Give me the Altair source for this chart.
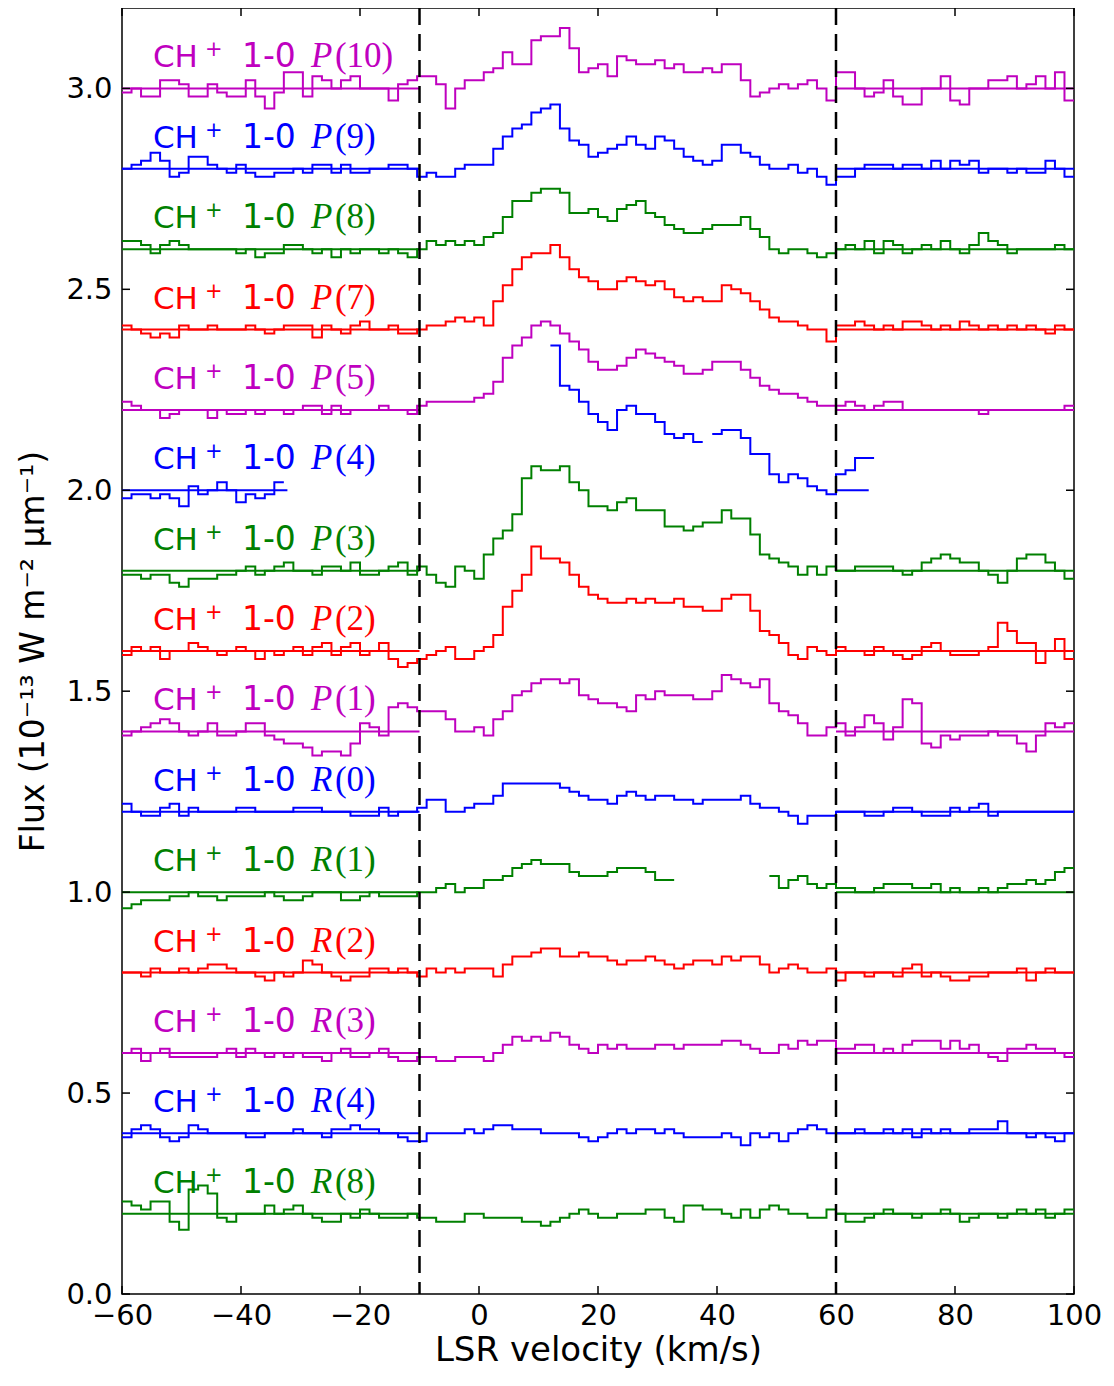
import altair as alt
import pandas as pd

# ---------------- data ----------------
V_START = -60.0      # km/s, left edge of first channel
CHAN_W = 1.6         # km/s channel width
N = None             # missing channel

line_names = ["P(10)", "P(9)", "P(8)", "P(7)", "P(5)", "P(4)", "P(3)", "P(2)",
              "P(1)", "R(0)", "R(1)", "R(2)", "R(3)", "R(4)", "R(8)"]
baselines = [3.0, 2.8, 2.6, 2.4, 2.2, 2.0, 1.8, 1.6, 1.4, 1.2, 1.0, 0.8, 0.6, 0.4, 0.2]
line_colors = ["#bf00bf", "#0000ff", "#008000", "#ff0000", "#bf00bf", "#0000ff",
               "#008000", "#ff0000", "#bf00bf", "#0000ff", "#008000", "#ff0000",
               "#bf00bf", "#0000ff", "#008000"]

# continuum-fit ranges (km/s)
cont_left_end = [-10, -10, -10, -10, -10, -32.2, -10, -10, -10, -10, -10, -10, -10, -10, -10]
cont_right_end = [100, 100, 100, 100, 100, 65.5, 100, 100, 100, 100, 100, 100, 100, 100, 100]
CONT_LEFT_START = -60
CONT_RIGHT_START = 60

# flux offsets from each baseline, in units of 0.01 (1e-13 W m^-2 um^-1), per channel
p10 = [-1, 0, -2, -2, 2, 2, 1, -2, -2, 1,
       -1, -2, -2, 2, -2, -5, -1, 4, 4, -2,
       3, 2, 0, 2, 3, 0, 0, 0, -3, 1,
       2, 3, 3, 1, -5, 0, 2, 2, 4, 5,
       9, 6, 6, 12, 13, 13, 15, 10, 4, 5,
       6, 3, 8, 7, 6, 6, 7, 5, 6, 4,
       4, 5, 4, 6, 6, 2, -2, -1, 0, 1,
       0, 1, 2, 0, -3, 4, 4, 0, -2, -1,
       2, -2, -4, -4, 0, 0, 3, -3, -4, 0,
       0, 2, 2, 3, 0, 1, 3, 0, 4, -3]
p9 = [0, 1, 2, 4, 2, -2, -1, 3, 3, 1,
      0, -1, 1, -1, -2, -2, -1, -1, 0, -1,
      1, 1, -1, 1, -1, -1, 0, 0, 1, 1,
      0, -2, -1, -2, -2, 0, 1, 1, 1, 5,
      8, 10, 11, 14, 15, 16, 10, 7, 6, 3,
      4, 5, 6, 8, 6, 5, 8, 7, 5, 3,
      2, 1, 2, 6, 6, 4, 3, 1, 0, 0,
      1, -1, 0, -2, -4, -2, -2, 0, 1, 1,
      1, 0, 1, 1, 0, 2, 0, 2, 1, 2,
      -1, 0, 0, -1, 0, -1, -1, 2, 0, -2]
p8 = [2, 2, 1, -1, 1, 2, 1, 0, 0, 0,
      0, 0, -1, 0, -2, -1, -1, 1, 1, 0,
      -1, 0, -2, 0, -1, 0, 0, -1, 0, -1,
      -2, 0, 2, 1, 2, 1, 2, 1, 3, 4,
      8, 12, 12, 14, 15, 15, 14, 9, 9, 10,
      8, 7, 10, 11, 12, 9, 8, 6, 5, 4,
      4, 5, 6, 6, 6, 8, 5, 3, 0, -1,
      0, 0, -1, -2, -1, 0, 1, 0, 2, -1,
      2, 1, -1, 0, 1, 0, 2, 0, -1, 1,
      4, 2, 1, -1, 0, 0, 0, 0, 1, 0]
p7 = [1, 0, -1, -2, -1, -2, 1, 0, 0, 1,
      0, 0, 0, 1, 0, -1, 0, 1, 1, 1,
      -2, 1, 0, -1, 1, 2, 0, 0, 1, -1,
      -1, 0, 1, 1, 2, 3, 2, 3, 1, 7,
      11, 15, 18, 19, 19, 21, 18, 15, 13, 12,
      10, 10, 12, 13, 12, 11, 12, 10, 8, 7,
      8, 7, 7, 11, 10, 9, 7, 5, 3, 2,
      2, 1, 0, 0, -3, 1, 1, 2, 1, 0,
      1, 0, 2, 2, 1, 0, 1, 0, 2, 1,
      0, 1, 0, 1, 0, 1, 0, -1, 1, 0]
p5 = [2, 1, 0, 0, -2, -1, 0, 0, 0, -2,
      0, -1, -1, 0, -1, 0, 0, -1, 0, 1,
      1, -1, 1, -1, 0, 0, 0, 1, 0, 0,
      -1, 1, 2, 2, 2, 2, 2, 3, 4, 7,
      13, 16, 18, 21, 22, 21, 19, 17, 15, 12,
      10, 10, 11, 13, 15, 14, 13, 12, 11, 9,
      9, 10, 12, 12, 12, 10, 8, 6, 5, 4,
      4, 3, 2, 1, 1, 1, 2, 1, 0, 1,
      2, 2, 0, 0, 0, 0, 0, 0, 0, 0,
      -1, 0, 0, 0, 0, 0, 0, 0, 0, 1]
p4 = [-2, -1, -1, -2, -1, -2, -4, 1, -1, 0,
      2, 0, -3, -1, -2, -1, 2, N, N, N,
      N, N, N, N, N, N, N, N, N, N,
      N, N, N, N, N, N, N, N, N, N,
      N, N, N, N, N, 36, 26, 25, 22, 19,
      17, 15, 20, 21, 19, 19, 17, 14, 13, 14,
      12, N, 14, 15, 15, 13, 9, 9, 4, 2,
      4, 3, 1, 0, -1, 4, 5, 8, 8, N,
      N, N, N, N, N, N, N, N, N, N,
      N, N, N, N, N, N, N, N, N, N]
p3 = [-1, -1, -2, -1, -1, -3, -4, -2, -2, -2,
      -1, -1, 0, 1, -1, 0, 1, 2, 0, 0,
      -1, 1, 1, 0, 2, -1, -1, 0, 1, 2,
      -1, 1, -1, -3, -4, 1, 0, -2, 4, 8,
      10, 14, 23, 26, 25, 25, 26, 22, 20, 16,
      16, 15, 17, 18, 15, 15, 15, 11, 11, 10,
      11, 12, 12, 15, 13, 13, 9, 4, 3, 2,
      1, -1, 1, -1, 1, 0, 0, 1, 1, 1,
      1, 0, -1, 0, 2, 3, 4, 3, 2, 2,
      0, -1, -3, 0, 3, 4, 4, 2, 0, -2]
p2 = [-1, 1, 0, 1, -2, 0, 0, 2, 1, 0,
      -1, 0, 1, 0, -2, 0, -1, 0, 1, -1,
      1, 2, -1, 1, 2, -1, 0, 2, -2, -4,
      -3, -2, -1, 0, 1, -2, -2, 0, 1, 4,
      11, 15, 19, 26, 23, 23, 22, 19, 16, 14,
      13, 12, 12, 13, 12, 13, 12, 12, 13, 11,
      11, 10, 10, 13, 14, 14, 10, 5, 4, 2,
      -1, -2, 1, 0, -1, 1, 0, 0, -1, 1,
      0, -1, -2, -1, 1, 2, 0, -1, -1, -1,
      0, 1, 7, 5, 2, 2, -3, 0, 3, -2]
p1 = [-1, 0, 1, 2, 3, 2, 0, -1, 0, 2,
      -1, -1, 0, 2, 2, -1, -2, -3, -3, -4,
      -6, -5, -5, -6, -3, 2, 1, -1, 6, 7,
      6, 5, 5, 5, 3, 0, 0, 1, -1, 3,
      5, 9, 10, 12, 13, 13, 12, 13, 9, 8,
      7, 7, 6, 5, 9, 8, 10, 9, 9, 9,
      8, 8, 10, 14, 13, 12, 11, 13, 7, 5,
      4, 2, -1, -1, 1, 2, -1, 1, 4, 2,
      -2, 1, 8, 7, -3, -4, -1, -2, -1, -1,
      -1, 0, -1, -1, -3, -5, -1, 2, 1, 2]
r0 = [2, 0, -1, -1, 1, 2, -1, 1, 0, 0,
      0, 0, 1, 1, 0, 0, 0, 0, 1, 1,
      1, 0, 0, 0, -1, -1, -1, 1, -1, 0,
      0, 1, 3, 3, 0, 0, 1, 2, 2, 4,
      7, 7, 7, 7, 7, 7, 6, 5, 4, 3,
      3, 2, 4, 5, 4, 3, 4, 4, 3, 3,
      2, 3, 3, 3, 3, 4, 2, 1, 1, 0,
      -1, -3, -1, -1, -1, 0, 0, 0, -1, -1,
      0, 1, 1, 0, -1, -1, -1, 1, 0, 1,
      2, -1, 0, 0, 0, 0, 0, 0, 0, 0]
r1 = [-4, -3, -2, -2, -2, -1, -1, 0, -1, -1,
      -2, -1, -1, -1, -1, 0, -1, -2, -2, -1,
      0, 0, 0, -2, -2, -1, 0, -1, -1, -1,
      -1, 0, 0, 1, 2, 0, 1, 1, 3, 3,
      4, 6, 7, 8, 7, 7, 7, 5, 4, 4,
      4, 5, 6, 6, 6, 5, 3, 3, N, N,
      N, N, N, N, N, N, N, N, 4, 1,
      3, 4, 2, 1, 2, 1, 1, 0, 0, 1,
      2, 2, 2, 1, 1, 2, 0, 1, 0, 0,
      1, 0, 1, 2, 2, 3, 2, 3, 5, 6]
r2 = [0, 0, -1, 1, 0, 0, 1, 0, 1, 2,
      2, 1, 0, 0, -1, -2, 0, -1, 0, 3,
      2, 0, -1, -2, -1, -1, 1, 1, 0, 1,
      0, -1, 1, 0, 1, 0, 1, 1, 1, -1,
      2, 4, 4, 5, 6, 6, 4, 4, 5, 4,
      4, 3, 2, 3, 3, 4, 3, 2, 1, 2,
      3, 3, 2, 4, 3, 4, 4, 2, 0, 1,
      2, 1, 0, 0, 1, -2, 0, 0, -1, 0,
      0, -1, 1, 2, -1, 0, -1, -2, -2, -1,
      -1, 0, 0, 0, 1, -2, 0, 1, 0, 0]
r3 = [0, 1, -2, 0, 1, -1, -1, -1, -1, -1,
      0, 1, -1, 1, 0, -1, 0, -1, 0, -1,
      -1, -2, 0, 1, -1, -1, 0, 1, -1, -2,
      -2, -1, -1, -2, -2, -1, -1, -1, -2, 0,
      2, 4, 3, 4, 3, 5, 4, 2, 1, 0,
      2, 1, 2, 1, 1, 1, 2, 2, 1, 2,
      2, 2, 2, 3, 3, 2, 1, 0, 0, 2,
      1, 3, 2, 3, 3, 1, 1, 2, 2, 0,
      1, 0, 2, 3, 3, 3, 1, 3, 1, 2,
      0, -1, -2, 1, 1, 2, 1, 1, 0, -1]
r4 = [-1, 1, 2, 1, -1, -2, -1, 2, 1, 0,
      0, 0, 0, -1, -1, 0, 0, 0, 1, 0,
      0, -1, 1, 1, 2, 1, 1, 0, 0, -1,
      -2, -2, 0, 0, 0, 0, 1, 0, 1, 2,
      2, 1, 1, 1, 0, 0, 0, 0, -1, -2,
      -1, 0, 1, 0, 1, 1, 0, 1, 0, -1,
      -1, -1, -1, 0, -1, -3, 0, -1, 0, -2,
      0, 1, 2, 1, 0, 0, 0, 1, 0, 0,
      1, 0, 1, -1, 1, 0, 1, 0, 0, 1,
      1, 1, 3, 0, 0, -1, 0, -1, -2, 0]
r8 = [3, 2, 1, 3, 3, -2, -4, 6, 7, 5,
      -1, -2, 0, 0, 0, 2, 0, 1, 2, 0,
      -1, -2, -2, 0, -1, 1, 0, -1, -1, -1,
      0, -1, -1, -2, -2, -2, 0, 0, -1, -1,
      -1, -1, -2, -2, -3, -2, -1, 0, 1, 0,
      -1, -1, 0, 0, 0, 1, 1, -1, -2, 2,
      2, 1, 1, 0, -1, 1, -1, 1, 2, 1,
      0, 0, -1, -1, 1, 0, -2, -2, -1, 0,
      1, 0, 0, -1, 0, 0, 1, 0, -2, -1,
      0, 0, -1, 0, 1, 0, 1, -1, 0, 1]

spectra = [p10, p9, p8, p7, p5, p4, p3, p2, p1, r0, r1, r2, r3, r4, r8]

x_tick_values = [-60, -40, -20, 0, 20, 40, 60, 80, 100]
y_tick_values = [0.0, 0.5, 1.0, 1.5, 2.0, 2.5, 3.0]
window_edges = [-10, 60]

x_title = "LSR velocity (km/s)"
y_title = "Flux (10\u207b\u00b9\u00b3 W m\u207b\u00b2 \u03bcm\u207b\u00b9)"

# ---------------- tables ----------------
rows = []
for name, base, offs in zip(line_names, baselines, spectra):
    seg = 0
    prev_missing = True
    for i, o in enumerate(offs):
        if o is None:
            if not prev_missing:
                seg += 1
            prev_missing = True
            continue
        prev_missing = False
        f = base + o / 100.0
        x0 = V_START + CHAN_W * i
        key = f"{name}-{seg}"
        rows.append({"name": name, "key": key, "v": x0, "flux": f, "o": 2 * i})
        rows.append({"name": name, "key": key, "v": x0 + CHAN_W, "flux": f, "o": 2 * i + 1})
spec_df = pd.DataFrame(rows)

cont_rows = []
for name, base, le, re in zip(line_names, baselines, cont_left_end, cont_right_end):
    cont_rows.append({"name": name, "v": CONT_LEFT_START, "v2": le, "flux": base})
    cont_rows.append({"name": name, "v": CONT_RIGHT_START, "v2": re, "flux": base})
cont_df = pd.DataFrame(cont_rows)

LABEL_X = -54.8
LABEL_DY = 0.052
lab_df = pd.DataFrame({
    "name": line_names,
    "v": [LABEL_X] * len(line_names),
    "flux": [b + LABEL_DY for b in baselines],
    "ch": ["CH"] * len(line_names),
    "sup": ["+"] * len(line_names),
    "band": ["1-0"] * len(line_names),
    "branch": [n[0] for n in line_names],
    "j": [n[1:] for n in line_names],
})

W, H = 952, 1286

xs = alt.Scale(domain=[-60, 100], nice=False, zero=False)
ys = alt.Scale(domain=[0, 3.2], nice=False, zero=False)
x_axis = alt.Axis(values=x_tick_values, ticks=False, domain=False, grid=False,
                  title=x_title, labelFontSize=29, titleFontSize=34,
                  labelPadding=7, titlePadding=3, titleFontWeight="normal",
                  labelFlush=False)
y_axis = alt.Axis(values=y_tick_values, ticks=False, domain=False, grid=False,
                  title=y_title, format=".1f", labelFontSize=29, titleFontSize=33,
                  labelPadding=10, titlePadding=15, titleFontWeight="normal")
cscale = alt.Scale(domain=line_names, range=line_colors)


def X(field):
    return alt.X(field, type="quantitative", scale=xs, axis=x_axis)


def Y(field):
    return alt.Y(field, type="quantitative", scale=ys, axis=y_axis)


def C():
    return alt.Color("name:N", scale=cscale, legend=None)


cont = alt.Chart(cont_df).mark_rule(strokeWidth=2).encode(
    x=X("v"), x2="v2", y=Y("flux"), color=C())

spec = alt.Chart(spec_df).mark_line(strokeWidth=2, interpolate="linear").encode(
    x=X("v"), y=Y("flux"), color=C(), detail="key:N", order=alt.Order("o:Q"))

dash = alt.Chart(pd.DataFrame({"v": window_edges})).mark_rule(
    color="black", strokeWidth=2.5, strokeDash=[17, 9]).encode(
    x=X("v"), y=alt.value(0), y2=alt.value(H))

xt = pd.DataFrame({"v": x_tick_values})
yt = pd.DataFrame({"flux": y_tick_values})
tick_bottom = alt.Chart(xt).mark_rule(color="black", strokeWidth=1.5).encode(
    x=X("v"), y=alt.value(H), y2=alt.value(H - 8))
tick_top = alt.Chart(xt).mark_rule(color="black", strokeWidth=1.5).encode(
    x=X("v"), y=alt.value(0), y2=alt.value(8))
tick_left = alt.Chart(yt).mark_rule(color="black", strokeWidth=1.5).encode(
    y=Y("flux"), x=alt.value(0), x2=alt.value(8))
tick_right = alt.Chart(yt).mark_rule(color="black", strokeWidth=1.5).encode(
    y=Y("flux"), x=alt.value(W), x2=alt.value(W - 8))


def label_part(field, font, size, dx, dy=0, style="normal"):
    return alt.Chart(lab_df).mark_text(
        align="left", baseline="alphabetic", font=font, fontSize=size,
        dx=dx, dy=dy, fontStyle=style).encode(
        x=X("v"), y=Y("flux"), text=f"{field}:N", color=C())


labels = [
    label_part("ch", "DejaVu Sans", 31, 0),
    label_part("sup", "DejaVu Sans", 21, 52, -11),
    label_part("band", "DejaVu Sans", 33, 89),
    label_part("branch", "Liberation Serif", 35, 158, 0, "italic"),
    label_part("j", "Liberation Serif", 35, 182),
]

chart = alt.layer(
    cont, spec, *labels, dash, tick_bottom, tick_top, tick_left, tick_right
).properties(
    width=W, height=H,
    padding={"left": 114, "top": 0, "right": 32, "bottom": 80},
    autosize=alt.AutoSizeParams(type="none"),
).configure_view(
    stroke="black", strokeWidth=1.5
).configure_axis(
    labelFont="DejaVu Sans", titleFont="DejaVu Sans",
    labelColor="black", titleColor="black"
)

chart.save("out.html", embed_options={"renderer": "svg", "actions": False})
